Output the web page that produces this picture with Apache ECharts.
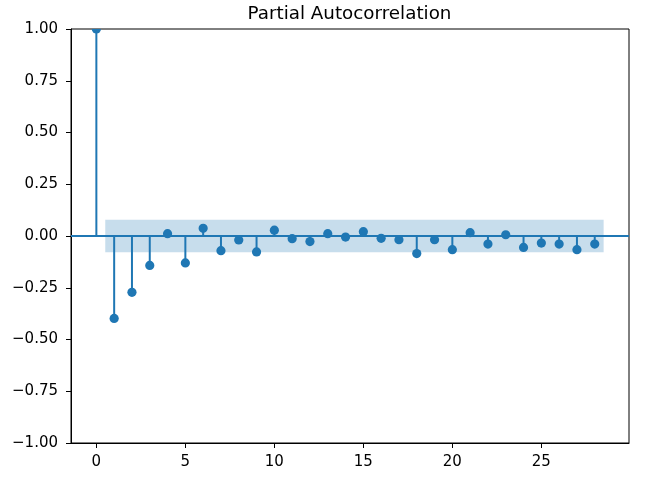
<!DOCTYPE html>
<html>
<head>
<meta charset="utf-8">
<script src="https://cdn.jsdelivr.net/npm/echarts@6/dist/echarts.min.js"></script>
<style>html,body{margin:0;padding:0;background:#fff;}#c{width:647px;height:484px;}</style>
</head>
<body>
<div id="c"></div>
<script>
const lags = [0,1,2,3,4,5,6,7,8,9,10,11,12,13,14,15,16,17,18,19,20,21,22,23,24,25,26,27,28];
const pacf = [1.0,-0.398,-0.272,-0.142,0.011,-0.130,0.037,-0.071,-0.019,-0.077,0.028,-0.013,-0.027,0.011,-0.005,0.021,-0.011,-0.018,-0.085,-0.018,-0.066,0.016,-0.039,0.006,-0.055,-0.034,-0.039,-0.066,-0.039];
const confBand = [-0.078, 0.078];
const bandRange = [0.5, 28.5];
const xTicks = [0,5,10,15,20,25];
const title = 'Partial Autocorrelation';

const C = '#1f77b4';
const font = 'DejaVu Sans';
const fmtY = v => (v < 0 ? '\u2212' : '') + Math.abs(v).toFixed(2);

const chart = echarts.init(document.getElementById('c'));
chart.setOption({
  animation: false,
  grid: {left: 71, right: 18, top: 29, bottom: 41, show: true, borderColor: '#000', borderWidth: 1, backgroundColor: 'transparent'},
  graphic: [{type: 'text', x: 349.5, y: 14, style: {text: title, fontFamily: font, fontSize: 18.3, fill: '#000', textAlign: 'center', textVerticalAlign: 'middle'}}],
  xAxis: {
    type: 'value', min: -1.425, max: 29.925,
    axisLine: {show: true, onZero: false, lineStyle: {color: '#000', width: 1}},
    axisTick: {show: true, length: 5, lineStyle: {color: '#000'}, customValues: xTicks},
    axisLabel: {fontFamily: font, fontSize: 15, color: '#000', margin: 12, customValues: xTicks, formatter: v => String(v)},
    splitLine: {show: false}
  },
  yAxis: {
    type: 'value', min: -1, max: 1, interval: 0.25,
    axisLine: {show: true, onZero: false, lineStyle: {color: '#000', width: 1}},
    axisTick: {show: true, length: 5, lineStyle: {color: '#000'}},
    axisLabel: {fontFamily: font, fontSize: 15, color: '#000', margin: 13, formatter: fmtY},
    splitLine: {show: false}
  },
  series: [
    {
      type: 'line', data: [], silent: true,
      markArea: {silent: true, itemStyle: {color: C, opacity: 0.25},
        data: [[{xAxis: bandRange[0], yAxis: confBand[0]}, {xAxis: bandRange[1], yAxis: confBand[1]}]]},
      markLine: {silent: true, symbol: 'none', label: {show: false}, lineStyle: {color: C, width: 2, type: 'solid'},
        data: [{yAxis: 0}]}
    },
    {
      type: 'custom', silent: true, clip: true,
      data: lags.map((l, i) => [l, pacf[i]]),
      renderItem: (params, api) => {
        const p0 = api.coord([api.value(0), 0]);
        const p1 = api.coord([api.value(0), api.value(1)]);
        return {type: 'group', children: [
          {type: 'line', shape: {x1: p0[0], y1: p0[1], x2: p1[0], y2: p1[1]}, style: {stroke: C, lineWidth: 2}},
          {type: 'circle', shape: {cx: p1[0], cy: p1[1], r: 4.6}, style: {fill: C}}
        ]};
      }
    }
  ]
});
</script>
</body>
</html>
